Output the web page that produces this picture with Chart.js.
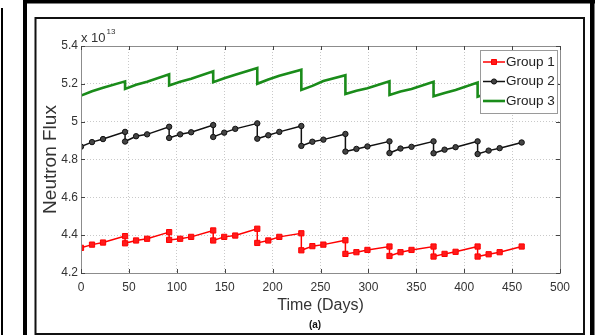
<!DOCTYPE html>
<html>
<head>
<meta charset="utf-8">
<script src="https://cdn.jsdelivr.net/npm/chart.js@4.4.0/dist/chart.umd.min.js"></script>
<style>
  html, body { margin: 0; padding: 0; background: #fff; }
  #wrap { width: 598px; height: 335px; }
</style>
</head>
<body>
<div id="wrap"><canvas id="fluxChart" width="598" height="335"></canvas></div>
<script>
// time in days; each refuelling step shows up as two points on the same day
const days = [0, 11.5, 23, 46, 46, 57.5, 69, 92, 92, 103.5, 115, 138, 138, 149.5, 161, 184,
  184, 195.5, 207, 230, 230, 241.5, 253, 276, 276, 287.5, 299, 322, 322, 333.5, 345, 368,
  368, 379.5, 391, 414, 414, 425.5, 437, 460];

// neutron flux, x 10^13
const group1 = [4.333, 4.350, 4.361, 4.395, 4.357, 4.372, 4.381, 4.416, 4.375, 4.381, 4.391, 4.425,
  4.372, 4.391, 4.398, 4.434, 4.359, 4.372, 4.391, 4.410, 4.320, 4.342, 4.350, 4.373,
  4.301, 4.310, 4.322, 4.340, 4.290, 4.310, 4.322, 4.340, 4.287, 4.301, 4.312, 4.340,
  4.287, 4.299, 4.310, 4.340];
const group2 = [4.868, 4.892, 4.908, 4.946, 4.895, 4.923, 4.933, 4.973, 4.914, 4.933, 4.944, 4.982,
  4.919, 4.942, 4.962, 4.991, 4.910, 4.928, 4.946, 4.977, 4.872, 4.894, 4.905, 4.935,
  4.842, 4.856, 4.869, 4.896, 4.834, 4.858, 4.867, 4.896, 4.833, 4.852, 4.865, 4.896,
  4.829, 4.847, 4.860, 4.890];
const group3 = [5.138, 5.161, 5.179, 5.213, 5.173, 5.195, 5.211, 5.250, 5.191, 5.211, 5.227, 5.266,
  5.209, 5.230, 5.248, 5.284, 5.200, 5.223, 5.243, 5.275, 5.168, 5.189, 5.215, 5.246,
  5.146, 5.164, 5.177, 5.214, 5.141, 5.159, 5.173, 5.211, 5.134, 5.152, 5.168, 5.207,
  5.132, 5.150, 5.166, 5.200];

const labels = ['Group 1', 'Group 2', 'Group 3'];
const FONT = '"Liberation Sans", Arial, Helvetica, sans-serif';

Chart.defaults.font.family = FONT;
Chart.defaults.color = '#333';

function pairs(ys) {
  return days.map((d, i) => ({ x: d, y: ys[i] }));
}

// page frames, white background
const framePlugin = {
  id: 'frames',
  beforeDraw(chart) {
    const ctx = chart.ctx;
    ctx.save();
    ctx.fillStyle = '#fff';
    ctx.fillRect(0, 0, chart.width, chart.height);
    ctx.fillStyle = '#000';
    ctx.fillRect(1, 8, 2, 327);
    ctx.fillRect(23, 0, 4, 335);
    ctx.fillRect(23, 0, 572, 3.5);
    ctx.fillRect(590, 0, 4.5, 335);
    ctx.strokeStyle = '#111';
    ctx.lineWidth = 2;
    ctx.strokeRect(35.5, 18, 548.5, 316);
    ctx.restore();
  }
};

// matlab style axes box + inward ticks
const boxPlugin = {
  id: 'box',
  afterDatasetsDraw(chart) {
    const { ctx, chartArea: a, scales } = chart;
    ctx.save();
    ctx.strokeStyle = '#8c8c8c';
    ctx.lineWidth = 1;
    ctx.strokeRect(a.left + 0.5, a.top + 0.5, a.right - a.left, a.bottom - a.top);
    ctx.strokeStyle = '#444';
    ctx.beginPath();
    for (const t of scales.x.ticks) {
      const px = Math.round(scales.x.getPixelForValue(t.value)) + 0.5;
      ctx.moveTo(px, a.bottom); ctx.lineTo(px, a.bottom - 4);
      ctx.moveTo(px, a.top); ctx.lineTo(px, a.top + 4);
    }
    for (const t of scales.y.ticks) {
      const py = Math.round(scales.y.getPixelForValue(t.value)) + 0.5;
      ctx.moveTo(a.left, py); ctx.lineTo(a.left + 4, py);
      ctx.moveTo(a.right, py); ctx.lineTo(a.right - 4, py);
    }
    ctx.stroke();
    ctx.restore();
  },
  afterDraw(chart) {
    const { ctx, chartArea: a } = chart;
    ctx.save();
    // exponent
    ctx.fillStyle = '#333';
    ctx.textBaseline = 'alphabetic';
    ctx.font = '13px ' + FONT;
    ctx.fillText('x 10', a.left, 42);
    const w = ctx.measureText('x 10').width;
    ctx.font = '8px ' + FONT;
    ctx.fillText('13', a.left + w + 1, 34);
    // panel tag
    ctx.font = 'bold 10px ' + FONT;
    ctx.textAlign = 'center';
    ctx.fillStyle = '#111';
    ctx.fillText('(a)', 315, 328);

    // legend inside the axes
    const lx = 480, ly = 50, lw = 77, lh = 63;
    ctx.fillStyle = '#fff';
    ctx.fillRect(lx, ly, lw, lh);
    ctx.strokeStyle = '#9a9a9a';
    ctx.lineWidth = 1;
    ctx.strokeRect(lx + 0.5, ly + 0.5, lw, lh);
    ctx.textAlign = 'left';
    ctx.textBaseline = 'middle';
    ctx.font = '13.5px ' + FONT;
    chart.data.datasets.forEach((ds, i) => {
      const y = ly + 12 + i * 19.5;
      ctx.strokeStyle = ds.borderColor;
      ctx.lineWidth = ds.borderWidth;
      ctx.beginPath();
      ctx.moveTo(lx + 3, y); ctx.lineTo(lx + 25, y);
      ctx.stroke();
      if (ds.pointRadius > 0) {
        ctx.fillStyle = ds.pointBackgroundColor;
        ctx.strokeStyle = ds.borderColor;
        ctx.lineWidth = 1;
        ctx.beginPath();
        if (ds.pointStyle === 'rect') {
          ctx.rect(lx + 11.5, y - 2.5, 5, 5);
        } else {
          ctx.arc(lx + 14, y, 2.6, 0, Math.PI * 2);
        }
        ctx.fill(); ctx.stroke();
      }
      ctx.fillStyle = '#222';
      ctx.fillText(ds.label, lx + 26, y);
    });
    ctx.restore();
  }
};

const gridColor = '#c9c9c9';

new Chart(document.getElementById('fluxChart').getContext('2d'), {
  type: 'line',
  data: {
    datasets: [
      {
        label: labels[0],
        data: pairs(group1),
        borderColor: '#ff0000',
        backgroundColor: '#ff0000',
        pointBackgroundColor: '#ff1a1a',
        borderWidth: 1.5,
        pointStyle: 'rect',
        pointRadius: 3.7,
        pointBorderWidth: 1,
        tension: 0
      },
      {
        label: labels[1],
        data: pairs(group2),
        borderColor: '#111111',
        backgroundColor: '#111111',
        pointBackgroundColor: '#444444',
        borderWidth: 1.5,
        pointStyle: 'circle',
        pointRadius: 2.7,
        pointBorderWidth: 1,
        tension: 0
      },
      {
        label: labels[2],
        data: pairs(group3),
        borderColor: '#1a8c1a',
        backgroundColor: '#1a8c1a',
        pointBackgroundColor: '#1a8c1a',
        borderWidth: 2.6,
        pointRadius: 0,
        tension: 0
      }
    ]
  },
  options: {
    responsive: false,
    animation: false,
    layout: { padding: { left: 30, right: 38, top: 46, bottom: 0 } },
    plugins: { legend: { display: false }, tooltip: { enabled: false } },
    scales: {
      x: {
        type: 'linear',
        min: 0,
        max: 500,
        afterFit: s => { s.height = 62; },
        ticks: { stepSize: 50, padding: 7, maxRotation: 0, autoSkip: false, color: '#333', font: { size: 12 } },
        grid: { color: gridColor, drawTicks: false },
        border: { display: false, dash: [1, 2] },
        title: { display: true, text: 'Time (Days)', color: '#333', font: { size: 16 }, padding: { top: 0, bottom: 20 } }
      },
      y: {
        type: 'linear',
        min: 4.2,
        max: 5.4,
        afterFit: s => { s.width = 51; },
        ticks: { stepSize: 0.2, padding: 3, color: '#333', font: { size: 12 },
          callback: v => String(+v.toFixed(1)) },
        grid: { color: gridColor, drawTicks: false },
        border: { display: false, dash: [1, 2] },
        title: { display: true, text: 'Neutron Flux', color: '#333', font: { size: 19 }, padding: { top: 9, bottom: 0 } }
      }
    }
  },
  plugins: [framePlugin, boxPlugin]
});
</script>
</body>
</html>
